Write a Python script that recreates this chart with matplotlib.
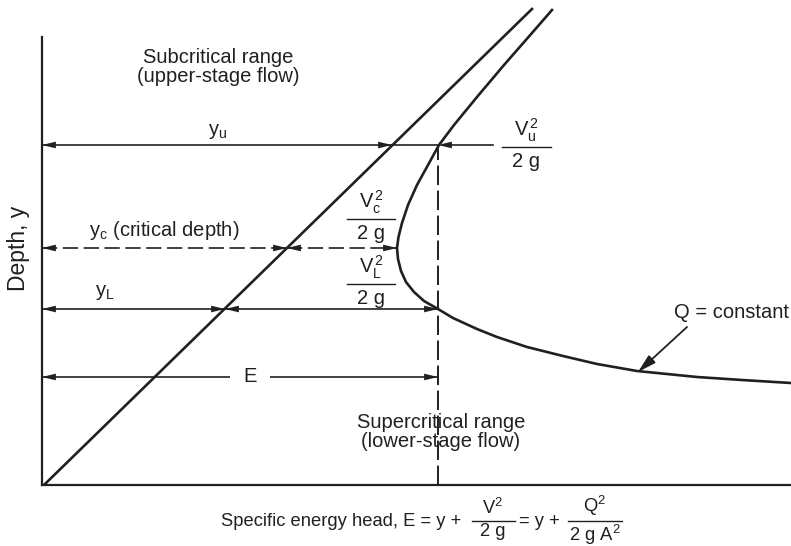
import matplotlib
matplotlib.use("Agg")
import matplotlib.pyplot as plt
from matplotlib.patches import FancyArrowPatch

plt.rcParams["font.family"] = ["Liberation Sans", "DejaVu Sans"]
plt.rcParams["mathtext.fontset"] = "custom"
plt.rcParams["mathtext.rm"] = "Liberation Sans"
plt.rcParams["mathtext.it"] = "Liberation Sans"
plt.rcParams["mathtext.default"] = "regular"
plt.rcParams["lines.scale_dashes"] = False

# specific energy curve for Q = constant (E, y)
curve_E = [5.10, 4.90, 4.62, 4.35, 4.12, 3.97, 3.86, 3.75, 3.66, 3.60, 3.565,
           3.55, 3.56, 3.59, 3.64, 3.72, 3.82, 3.96, 4.11, 4.35, 4.55, 4.85,
           5.21, 5.55, 5.95, 6.25, 6.55, 7.00, 7.49]
curve_y = [4.75, 4.52, 4.20, 3.88, 3.60, 3.40, 3.20, 3.00, 2.80, 2.62, 2.48,
           2.37, 2.26, 2.14, 2.03, 1.93, 1.84, 1.76, 1.67, 1.56, 1.48, 1.38,
           1.29, 1.21, 1.14, 1.11, 1.08, 1.05, 1.02]

# E = y line
diag_E = [0.03, 4.90]
diag_y = [0.01, 4.76]

# depths and energies marked on the diagram
y_u = 3.40
y_c = 2.37
y_L = 1.76
E_alt = 3.96        # energy shared by the alternate depths
E_min = 3.55        # energy at critical depth
E_dim_y = 1.08      # height of the E dimension line
cross_u, cross_c, cross_L = 3.50, 2.45, 1.83   # where the depths meet E = y

ink = "#231f20"
fs = 14.5
fs_x = 13.2

fig = plt.figure(figsize=(7.91, 5.46), dpi=100)
ax = fig.add_axes([42 / 791, 61 / 546, 749 / 791, 485 / 546])
ax.set_xlim(0, 7.49)
ax.set_ylim(0, 4.85)
ax.axis("off")


def head(x_from, x_to, y):
    ax.add_patch(FancyArrowPatch((x_from, y), (x_to, y),
                                 arrowstyle="-|>,head_length=1.0,head_width=0.24",
                                 mutation_scale=10, lw=0, color=ink,
                                 shrinkA=0, shrinkB=0, clip_on=False))


def dim(x0, x1, y, ls="-", left=True, right=True):
    ax.plot([x0, x1], [y, y], color=ink, lw=1.2, ls=ls, solid_capstyle="butt",
            clip_on=False)
    if left:
        head(x0 + 0.12, x0, y)
    if right:
        head(x1 - 0.12, x1, y)


def frac(num, den, xc, yb, w, size=fs, gap=0.05):
    ax.plot([xc - w / 2, xc + w / 2], [yb, yb], color=ink, lw=1.0, clip_on=False)
    ax.text(xc, yb + 0.03, num, ha="center", va="bottom", fontsize=size, color=ink)
    ax.text(xc, yb - gap, den, ha="center", va="top", fontsize=size, color=ink)


# axes
ax.plot([0, 0], [0, 4.48], color=ink, lw=1.6, clip_on=False)
ax.plot([0, 7.49], [0, 0], color=ink, lw=1.6, clip_on=False)

# E = y line and specific energy curve
ax.plot(diag_E, diag_y, color=ink, lw=1.9, clip_on=False)
ax.plot(curve_E, curve_y, color=ink, lw=1.9, clip_on=False,
        solid_joinstyle="round")

# vertical dashed line at E
ax.plot([E_alt, E_alt], [0, y_u], color=ink, lw=1.4, ls=(0, (14, 4)),
        clip_on=False)

# upper depth
dim(0, cross_u, y_u)
ax.plot([cross_u, E_alt], [y_u, y_u], color=ink, lw=1.2)
ax.plot([E_alt + 0.12, 4.51], [y_u, y_u], color=ink, lw=1.2)
head(E_alt + 0.12, E_alt, y_u)

# critical depth
dim(0, cross_c, y_c, ls=(0, (11, 4)))
dim(cross_c, E_min, y_c, ls=(0, (11, 4)))

# lower depth
dim(0, cross_L, y_L)
dim(cross_L, E_alt, y_L)

# E dimension
dim(0, 1.88, E_dim_y, right=False)
dim(2.28, E_alt, E_dim_y, left=False)
ax.text(2.08, E_dim_y, "E", ha="center", va="center", fontsize=fs, color=ink)

# labels
ax.text(1.76, 4.18, "Subcritical range\n(upper-stage flow)", ha="center",
        va="center", fontsize=fs, color=ink, linespacing=0.95)
ax.text(3.99, 0.53, "Supercritical range\n(lower-stage flow)", ha="center",
        va="center", fontsize=fs, color=ink, linespacing=0.95)
ax.text(1.76, 3.53, "$y_u$", ha="center", va="center", fontsize=fs, color=ink)
ax.text(0.47, 2.55, "$y_c$ (critical depth)", ha="left", va="center",
        fontsize=fs, color=ink)
ax.text(0.63, 1.92, "$y_L$", ha="center", va="center", fontsize=fs, color=ink)
ax.text(-0.23, 2.37, "Depth, y", rotation=90, ha="center", va="center",
        fontsize=16.5, color=ink)

frac("$V_u^{\\,2}$", "2 g", 4.84, 3.38, 0.49)
frac("$V_c^{\\,2}$", "2 g", 3.29, 2.66, 0.48)
frac("$V_L^{\\,2}$", "2 g", 3.29, 2.01, 0.48)

# Q = constant
ax.text(6.89, 1.73, "Q = constant", ha="center", va="center", fontsize=fs,
        color=ink)
ax.add_patch(FancyArrowPatch((6.45, 1.58), (5.96, 1.13),
                             arrowstyle="-|>,head_length=1.1,head_width=0.3",
                             mutation_scale=10, lw=1.3, color=ink,
                             shrinkA=0, shrinkB=0))

# x label with fractions
ax.text(1.79, -0.36, "Specific energy head, E = y +", ha="left", va="center",
        fontsize=fs_x, color=ink)
frac("V$^2$", "2 g", 4.51, -0.36, 0.43, size=fs_x, gap=0.02)
ax.text(4.77, -0.36, "= y +", ha="left", va="center", fontsize=fs_x, color=ink)
frac("Q$^2$", "2 g A$^2$", 5.53, -0.36, 0.54, size=fs_x, gap=0.02)

fig.savefig("out.png", dpi=100)
